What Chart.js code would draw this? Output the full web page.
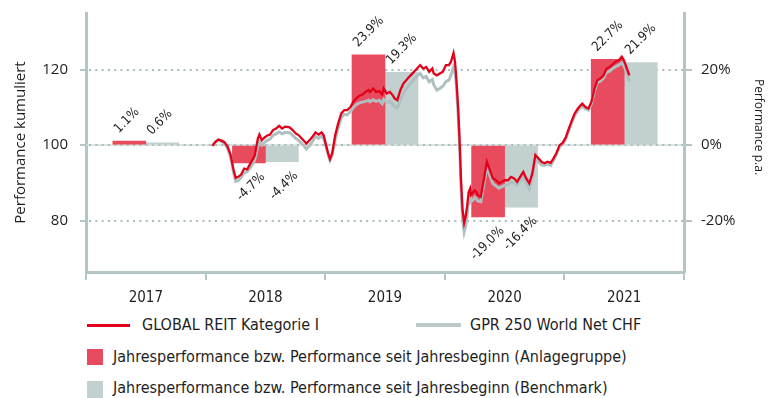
<!DOCTYPE html>
<html lang="de">
<head>
<meta charset="utf-8">
<title>GLOBAL REIT Kategorie I – Performance</title>
<script src="https://cdn.jsdelivr.net/npm/chart.js@4.4.1/dist/chart.umd.min.js"></script>
<style>
    body { margin: 0; background: #fff; }
    .page { position: relative; width: 772px; height: 398px; overflow: hidden;
        font-family: "DejaVu Sans Condensed", "DejaVu Sans", sans-serif; font-size: 16px; color: #1e1e1e; }
    #performanceChart { position: absolute; left: 0; top: 0; }
    .legend-text { position: absolute; line-height: 20px; white-space: nowrap; }
    .legend-mark { position: absolute; }
</style>
</head>
<body>
<div class="page">
    <canvas id="performanceChart" width="772" height="310"></canvas>

    <span class="legend-mark" id="mark-fund-line" style="left: 87px; top: 324px; width: 43px; height: 3px;"></span>
    <span class="legend-text" style="left: 142px; top: 315px;">GLOBAL REIT Kategorie I</span>
    <span class="legend-mark" id="mark-bench-line" style="left: 416px; top: 323px; width: 45px; height: 4px;"></span>
    <span class="legend-text" style="left: 470px; top: 315px;">GPR 250 World Net CHF</span>

    <span class="legend-mark" id="mark-fund-bar" style="left: 87px; top: 349px; width: 16px; height: 16px;"></span>
    <span class="legend-text" style="left: 113px; top: 347px;">Jahresperformance bzw. Performance seit Jahresbeginn (Anlagegruppe)</span>
    <span class="legend-mark" id="mark-bench-bar" style="left: 87px; top: 381px; width: 16px; height: 17px;"></span>
    <span class="legend-text" style="left: 113px; top: 378px;">Jahresperformance bzw. Performance seit Jahresbeginn (Benchmark)</span>
</div>

<script>
    // yearly performance in % (2021 = year to date)
    const years = ['2017', '2018', '2019', '2020', '2021'];
    const fundYearly = [1.1, -4.7, 23.9, -19.0, 22.7];
    const benchYearly = [0.6, -4.4, 19.3, -16.4, 21.9];

    // cumulative performance, indexed to 100, dates as decimal years
    const lineDates = [
        2017.912, 2017.940, 2017.968, 2017.996, 2018.023, 2018.052, 2018.079, 2018.107, 2018.127, 2018.149,
        2018.177, 2018.205, 2018.233, 2018.261, 2018.289, 2018.303, 2018.316, 2018.331, 2018.345, 2018.367,
        2018.387, 2018.414, 2018.442, 2018.470, 2018.498, 2018.526, 2018.554, 2018.582, 2018.623, 2018.651,
        2018.679, 2018.707, 2018.749, 2018.777, 2018.805, 2018.833, 2018.860, 2018.889, 2018.916, 2018.936,
        2018.958, 2018.977, 2018.994, 2019.014, 2019.042, 2019.069, 2019.098, 2019.126, 2019.153, 2019.182,
        2019.209, 2019.237, 2019.265, 2019.293, 2019.321, 2019.349, 2019.362, 2019.391, 2019.418, 2019.446,
        2019.474, 2019.488, 2019.516, 2019.544, 2019.572, 2019.586, 2019.613, 2019.642, 2019.669, 2019.711,
        2019.753, 2019.795, 2019.823, 2019.851, 2019.879, 2019.906, 2019.935, 2019.948, 2019.977, 2020.004,
        2020.032, 2020.060, 2020.088, 2020.107, 2020.130, 2020.144, 2020.157, 2020.172, 2020.186, 2020.199,
        2020.213, 2020.228, 2020.241, 2020.255, 2020.269, 2020.283, 2020.291, 2020.311, 2020.325, 2020.339,
        2020.353, 2020.381, 2020.408, 2020.437, 2020.464, 2020.492, 2020.521, 2020.548, 2020.576, 2020.604,
        2020.632, 2020.659, 2020.688, 2020.715, 2020.743, 2020.772, 2020.799, 2020.827, 2020.855, 2020.883,
        2020.911, 2020.939, 2020.967, 2020.994, 2021.023, 2021.050, 2021.078, 2021.106, 2021.134, 2021.162,
        2021.190, 2021.218, 2021.245, 2021.274, 2021.301, 2021.315, 2021.343, 2021.371, 2021.399, 2021.427,
        2021.454, 2021.483, 2021.510, 2021.538, 2021.567, 2021.594, 2021.622, 2021.650, 2021.678, 2021.697,
        2021.720, 2021.747
    ];
    const fundIndexed = [
        99.8, 100.9, 101.5, 101.2, 100.8, 99.6, 97.5, 93.5, 91.3, 91.6,
        92.2, 93.8, 93.6, 95.1, 96.5, 97.4, 99.5, 101.8, 102.8, 101.3,
        101.9, 102.5, 102.8, 104.0, 104.4, 105.1, 104.4, 104.9, 104.7, 104.0,
        103.1, 102.6, 101.3, 100.4, 101.3, 102.2, 103.4, 102.8, 103.4, 102.6,
        100.0, 97.8, 96.3, 97.8, 102.6, 105.7, 108.4, 109.3, 109.3, 110.1,
        111.5, 112.4, 113.1, 113.4, 114.1, 114.6, 114.1, 115.0, 114.1, 114.3,
        113.4, 115.0, 113.7, 114.1, 113.2, 112.4, 111.9, 114.6, 116.3, 117.7,
        119.0, 120.3, 121.2, 120.3, 120.7, 119.4, 120.3, 119.0, 118.5, 119.0,
        119.4, 121.2, 121.2, 122.1, 124.4, 122.1, 117.2, 110.1, 101.3, 90.7,
        83.0, 79.4, 81.0, 83.7, 87.5, 88.5, 86.8, 87.5, 88.0, 87.6,
        86.8, 86.3, 90.7, 95.6, 93.4, 91.2, 90.7, 89.9, 90.3, 90.7,
        90.7, 91.6, 91.2, 90.3, 91.6, 92.9, 91.2, 89.9, 92.5, 97.4,
        96.5, 95.6, 95.2, 95.6, 95.3, 96.5, 98.0, 100.0, 100.6, 102.0,
        104.3, 106.5, 108.4, 109.7, 110.6, 111.0, 110.1, 109.7, 111.5, 115.0,
        117.2, 117.7, 118.5, 120.3, 120.7, 121.4, 122.1, 122.5, 123.4, 122.5,
        120.7, 118.5
    ];
    const benchIndexed = [
        99.8, 100.8, 101.3, 101.0, 100.5, 99.2, 97.0, 92.8, 90.4, 90.6,
        91.5, 92.6, 93.0, 94.0, 95.3, 96.2, 97.8, 99.8, 101.0, 100.0,
        100.6, 101.2, 101.6, 102.6, 103.0, 103.5, 103.0, 103.4, 103.3, 102.6,
        101.8, 101.2, 100.0, 99.0, 99.8, 101.0, 102.3, 101.8, 102.4, 101.8,
        99.6, 97.5, 96.0, 97.4, 101.6, 104.6, 107.3, 108.2, 108.0, 108.9,
        110.0, 110.8, 111.2, 111.4, 111.6, 111.9, 111.5, 112.0, 111.6, 111.9,
        111.0, 112.1, 111.3, 111.6, 110.8, 110.3, 109.8, 112.0, 113.8, 115.5,
        117.0, 118.3, 119.0, 117.8, 118.2, 116.8, 117.4, 116.0, 114.6, 115.0,
        115.6, 116.8, 117.2, 118.6, 120.7, 119.5, 115.5, 108.5, 100.0, 89.0,
        80.5, 77.0, 78.5, 81.5, 85.0, 86.5, 85.0, 85.6, 86.2, 85.8,
        85.2, 85.0, 89.5, 94.2, 92.0, 89.8, 89.2, 88.6, 89.0, 89.4,
        89.5, 90.3, 90.0, 89.4, 90.5, 91.8, 90.0, 88.5, 91.5, 96.5,
        95.6, 94.8, 94.6, 95.0, 94.6, 96.0, 97.6, 99.6, 100.2, 101.6,
        103.8, 106.0, 107.9, 109.2, 110.0, 110.4, 109.6, 109.3, 111.0, 114.4,
        116.6, 117.0, 117.8, 119.3, 119.6, 120.3, 120.8, 121.2, 121.8, 121.0,
        119.5, 116.8
    ];

    const AXIS_COLOR = '#b3c5c5';
    const GUIDE_COLOR = '#a9bcbc';
    const TEXT_COLOR = '#1e1e1e';
    const FUND_LINE = '#e2001a';
    const BENCH_LINE = '#b0c0c0';
    const FUND_BAR = '#e84b5e';
    const BENCH_BAR = '#c2d0cf';

    const axisFont = {family: "'Open Sans', sans-serif", size: 15};
    const yearFont = {family: "'DejaVu Sans Condensed', 'DejaVu Sans', sans-serif", size: 15};
    const valueFont = "13px 'DejaVu Sans Condensed', 'DejaVu Sans', sans-serif";

    document.getElementById('mark-fund-line').style.background = FUND_LINE;
    document.getElementById('mark-bench-line').style.background = '#bccaca';
    document.getElementById('mark-fund-bar').style.background = FUND_BAR;
    document.getElementById('mark-bench-bar').style.background = BENCH_BAR;

    // dotted guide lines at 80 / 120 and the 100 base line
    const guideLines = {
        id: 'guideLines',
        beforeDatasetsDraw(chart) {
            const {ctx, chartArea, scales} = chart;
            ctx.save();
            for (let value of [80, 100, 120]) {
                let y = Math.round(scales.y.getPixelForValue(value));
                if (value === 100) {
                    ctx.setLineDash([]);
                    ctx.strokeStyle = '#d3dada';
                    ctx.lineWidth = 1.5;
                    ctx.beginPath();
                    ctx.moveTo(chartArea.left, y);
                    ctx.lineTo(chartArea.right, y);
                    ctx.stroke();
                }
                ctx.setLineDash([2, 4.3]);
                ctx.strokeStyle = GUIDE_COLOR;
                ctx.lineWidth = 2;
                ctx.beginPath();
                ctx.moveTo(chartArea.left + 3, y);
                ctx.lineTo(chartArea.right, y);
                ctx.stroke();
            }
            ctx.restore();
        }
    };

    // rotated percentage above / below each bar
    const barLabels = {
        id: 'barLabels',
        afterDatasetsDraw(chart) {
            const {ctx} = chart;
            ctx.save();
            ctx.font = valueFont;
            ctx.fillStyle = TEXT_COLOR;
            ctx.textBaseline = 'middle';
            chart.data.datasets.forEach((dataset, i) => {
                if (dataset.type !== 'bar') return;
                chart.getDatasetMeta(i).data.forEach((bar, j) => {
                    let value = dataset.data[j];
                    let top = Math.min(bar.y, bar.base);
                    let bottom = Math.max(bar.y, bar.base);
                    ctx.save();
                    if (value >= 0) {
                        ctx.translate(bar.x - 13, top - 10);
                        ctx.textAlign = 'left';
                    } else {
                        ctx.translate(bar.x + 14, bottom + 12);
                        ctx.textAlign = 'right';
                    }
                    ctx.rotate(-Math.PI / 4);
                    ctx.fillText(value.toFixed(1) + '%', 0, 0);
                    ctx.restore();
                });
            });
            ctx.restore();
        }
    };

    const rightTitle = {
        id: 'rightTitle',
        afterDraw(chart) {
            const {ctx, chartArea, scales} = chart;
            ctx.save();
            ctx.font = "12px 'Open Sans', sans-serif";
            ctx.fillStyle = TEXT_COLOR;
            ctx.textAlign = 'center';
            ctx.textBaseline = 'middle';
            ctx.translate(scales.y1.right - 14, chartArea.top + 114);
            ctx.rotate(Math.PI / 2);
            ctx.fillText('Performance p.a.', 0, 0);
            ctx.restore();
        }
    };

    // vertical axes: fixed width, no extra room for the tick labels above/below
    const fitVertical = (width) => (scale) => {
        scale.width = width;
        scale.paddingTop = 0;
        scale.paddingBottom = 0;
    };

    new Chart(document.getElementById('performanceChart'), {
        type: 'bar',
        data: {
            labels: years,
            datasets: [
                {
                    type: 'line',
                    label: 'GLOBAL REIT Kategorie I',
                    data: lineDates.map((x, i) => ({x: x, y: fundIndexed[i]})),
                    xAxisID: 'xLine',
                    yAxisID: 'y',
                    borderColor: FUND_LINE,
                    borderWidth: 2.3,
                    pointRadius: 0,
                    tension: 0,
                    order: 0
                },
                {
                    type: 'line',
                    label: 'GPR 250 World Net CHF',
                    data: lineDates.map((x, i) => ({x: x, y: benchIndexed[i]})),
                    xAxisID: 'xLine',
                    yAxisID: 'y',
                    borderColor: BENCH_LINE,
                    borderWidth: 3,
                    pointRadius: 0,
                    tension: 0,
                    order: 1
                },
                {
                    type: 'bar',
                    label: 'Jahresperformance bzw. Performance seit Jahresbeginn (Anlagegruppe)',
                    data: fundYearly,
                    xAxisID: 'x',
                    yAxisID: 'y1',
                    backgroundColor: FUND_BAR,
                    barThickness: 33,
                    order: 2
                },
                {
                    type: 'bar',
                    label: 'Jahresperformance bzw. Performance seit Jahresbeginn (Benchmark)',
                    data: benchYearly,
                    xAxisID: 'x',
                    yAxisID: 'y1',
                    backgroundColor: BENCH_BAR,
                    barThickness: 33,
                    order: 3
                }
            ]
        },
        options: {
            responsive: false,
            animation: false,
            layout: {padding: {top: 13, left: 0, right: 0, bottom: 0}},
            plugins: {
                legend: {display: false},
                tooltip: {enabled: false}
            },
            scales: {
                x: {
                    type: 'category',
                    offset: true,
                    grid: {offset: true, drawOnChartArea: false, tickLength: 8, color: AXIS_COLOR, lineWidth: 2},
                    border: {color: AXIS_COLOR, width: 3},
                    ticks: {font: yearFont, color: TEXT_COLOR, padding: 9},
                    afterFit: (scale) => { scale.height = 38; }
                },
                xLine: {
                    type: 'linear',
                    display: false,
                    min: 2017,
                    max: 2022
                },
                y: {
                    position: 'left',
                    min: 66.4,
                    max: 135,
                    ticks: {stepSize: 20, includeBounds: false, padding: 12, font: axisFont, color: TEXT_COLOR},
                    grid: {drawOnChartArea: false, tickLength: 6, color: AXIS_COLOR, lineWidth: 2},
                    border: {color: AXIS_COLOR, width: 3},
                    title: {display: true, text: 'Performance kumuliert', font: axisFont, color: TEXT_COLOR, padding: {top: 12, bottom: 0}},
                    afterFit: fitVertical(86)
                },
                y1: {
                    position: 'right',
                    min: -33.6,
                    max: 35,
                    ticks: {
                        stepSize: 20, includeBounds: false, padding: 9, font: axisFont, color: TEXT_COLOR,
                        callback: (value) => value + '%'
                    },
                    grid: {drawOnChartArea: false, tickLength: 8, color: AXIS_COLOR, lineWidth: 2},
                    border: {color: AXIS_COLOR, width: 3},
                    afterFit: fitVertical(88)
                }
            }
        },
        plugins: [guideLines, barLabels, rightTitle]
    });
</script>
</body>
</html>
